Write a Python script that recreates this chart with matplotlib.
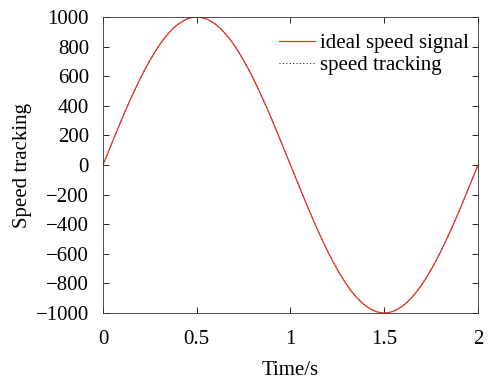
import matplotlib
matplotlib.use('Agg')
import matplotlib.pyplot as plt

# values, every 0.025 s
time_s = [round(0.025 * i, 3) for i in range(81)]
ideal_speed = [0, 78, 156, 233, 309, 383, 454, 522, 588, 649,
               707, 760, 809, 853, 891, 924, 951, 972, 988, 997,
               1000, 997, 988, 972, 951, 924, 891, 853, 809, 760,
               707, 649, 588, 522, 454, 383, 309, 233, 156, 78,
               0, -78, -156, -233, -309, -383, -454, -522, -588, -649,
               -707, -760, -809, -853, -891, -924, -951, -972, -988, -997,
               -1000, -997, -988, -972, -951, -924, -891, -853, -809, -760,
               -707, -649, -588, -522, -454, -383, -309, -233, -156, -78, 0]
tracked_speed = [0, 77, 155, 232, 308, 382, 453, 521, 587, 648,
                 706, 759, 808, 852, 890, 923, 950, 971, 987, 996,
                 999, 996, 987, 971, 950, 923, 890, 852, 808, 759,
                 706, 648, 587, 521, 453, 382, 308, 232, 155, 77,
                 0, -77, -155, -232, -308, -382, -453, -521, -587, -648,
                 -706, -759, -808, -852, -890, -923, -950, -971, -987, -996,
                 -999, -996, -987, -971, -950, -923, -890, -852, -808, -759,
                 -706, -648, -587, -521, -453, -382, -308, -232, -155, -77, 0]

x_ticks = [0, 0.5, 1, 1.5, 2]
x_tick_labels = ['0', '0.5', '1', '1.5', '2']
y_ticks = list(range(-1000, 1001, 200))

plt.rcParams['font.family'] = ['Liberation Serif', 'DejaVu Serif']

fig = plt.figure(figsize=(4.89, 3.81), dpi=100)
ax = fig.add_axes([103 / 489, 68 / 381, 375 / 489, 296 / 381])

ax.plot(time_s, tracked_speed, color='black', lw=0.7, ls=(0, (1, 2.5)),
        label='speed tracking')
ax.plot(time_s, ideal_speed, color='#e8321e', lw=0.9, label='ideal speed signal')

ax.set_xlim(0, 2)
ax.set_ylim(-1000, 1000)
ax.set_xticks(x_ticks)
ax.set_xticklabels(x_tick_labels)
ax.set_yticks(y_ticks)
ax.set_yticklabels([str(v).replace('-', '\u2212') for v in y_ticks])
ax.tick_params(direction='in', top=True, right=True, labelsize=15, length=4,
               width=0.6)
ax.tick_params(axis='x', pad=12)
ax.tick_params(axis='y', pad=10)
for s in ax.spines.values():
    s.set_linewidth(0.6)
    s.set_color('#333333')

ax.set_xlabel('Time/s', fontsize=15, labelpad=9)
ax.set_ylabel('Speed tracking', fontsize=15, labelpad=3)

handles, labels = ax.get_legend_handles_labels()
leg = ax.legend(handles[::-1], labels[::-1], loc='upper right', frameon=False,
                bbox_to_anchor=(1.02, 1.0),
                fontsize=15, handlelength=1.7, handletextpad=0.25,
                labelspacing=0.12, borderaxespad=0.4)

fig.savefig('out.png', dpi=100)
